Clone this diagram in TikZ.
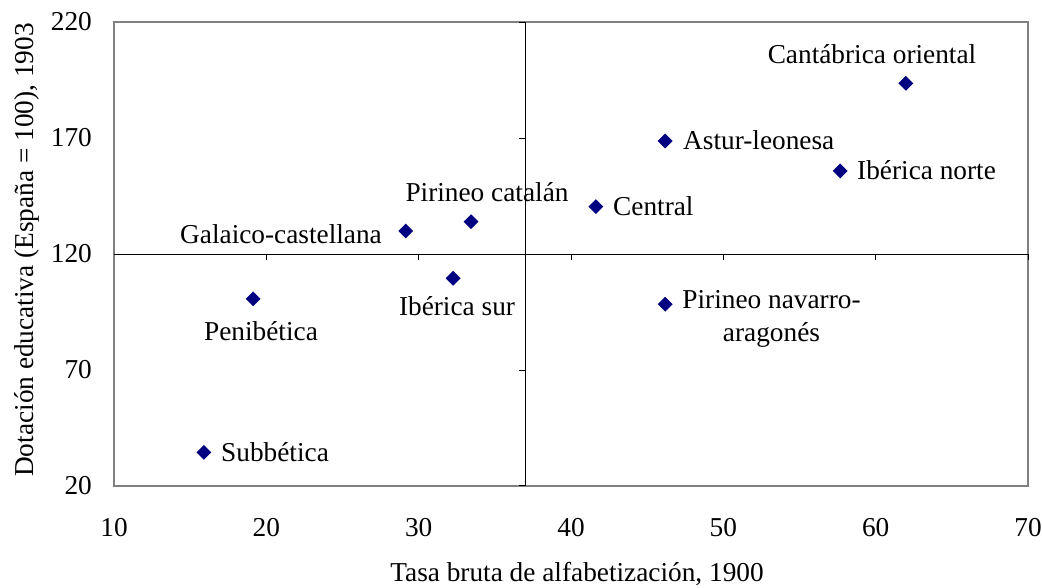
\documentclass[tikz,border=0pt]{standalone}
\usepackage{fontspec}
\setmainfont{Liberation Serif}
\usetikzlibrary{shapes.geometric}
\definecolor{navy}{RGB}{0,0,128}
\definecolor{framegray}{RGB}{128,128,128}
\begin{document}
\begin{tikzpicture}[x=1pt,y=1pt,
  dpt/.style={diamond, fill=navy, draw=none, inner sep=0pt, minimum width=15pt, minimum height=15pt},
  lbl/.style={font=\fontsize{27.3}{33}\selectfont, inner sep=0pt, text height=0.68em, text depth=0pt},
  lbl2/.style={font=\fontsize{27.3}{33}\selectfont, inner sep=0pt, align=center},
  tick/.style={font=\fontsize{27.3}{30}\selectfont, inner sep=0pt, text height=0.68em, text depth=0pt},
  axisline/.style={black, line width=1pt},
  frameline/.style={framegray, line width=2pt}]
\useasboundingbox (0,0) rectangle (1042,588);
\fill[white] (0,0) rectangle (1042,588);
% frame
\draw[frameline] (114,102) rectangle (1028,566);
\begin{scope}[x=15.2333pt, y=2.3185pt, xshift=-38.33pt, yshift=55.63pt]
  % axes
  \draw[axisline] (10,120) -- (70,120);
  \draw[axisline] (37,20) -- (37,220);
  \foreach \xv in {20,30,...,70} \draw[axisline] (\xv,120) -- ++(0,-6pt);
  \foreach \yv in {20,70,...,220} \draw[axisline] (37,\yv) -- ++(-6pt,0);
  % tick labels
  \foreach \xv in {10,20,...,70} \node[tick] (xt\xv) at ([yshift=-47pt]\xv,20) {\xv};
  \foreach \yv in {20,70,...,220} \node[tick, anchor=east] (yt\yv) at ([xshift=-22pt,yshift=-5pt]10,\yv) {\yv};
  % data points
  \node[dpt] (p1) at (61.98,193.7) {};
  \node[dpt] (p2) at (46.18,168.8) {};
  \node[dpt] (p3) at (57.67,155.9) {};
  \node[dpt] (p4) at (41.63,140.5) {};
  \node[dpt] (p5) at (33.44,134.0) {};
  \node[dpt] (p6) at (29.15,130.0) {};
  \node[dpt] (p7) at (32.26,109.6) {};
  \node[dpt] (p8) at (46.18,98.4) {};
  \node[dpt] (p9) at (19.13,100.7) {};
  \node[dpt] (p10) at (15.90,34.5) {};
\end{scope}
% point labels
\node[lbl] (l1) at (872,528) {Cantábrica oriental};
\node[lbl, anchor=west] (l2) at (683,442) {Astur-leonesa};
\node[lbl, anchor=west] (l3) at (857,412) {Ibérica norte};
\node[lbl, anchor=west] (l4) at (613,376) {Central};
\node[lbl] (l5) at (487,390) {Pirineo catalán};
\node[lbl, anchor=east] (l6) at (382,348) {Galaico-castellana};
\node[lbl] (l7) at (457,276) {Ibérica sur};
\node[lbl2] (l8) at (771.5,269) {Pirineo navarro-\\aragonés};
\node[lbl] (l9) at (261,251) {Penibética};
\node[lbl, anchor=west] (l10) at (221,130) {Subbética};
% axis titles
\node[lbl] (xtitle) at (577,10) {Tasa bruta de alfabetización, 1900};
\node[lbl, rotate=90] (ytitle) at (30,338) {Dotación educativa (España = 100), 1903};
\end{tikzpicture}
\end{document}
